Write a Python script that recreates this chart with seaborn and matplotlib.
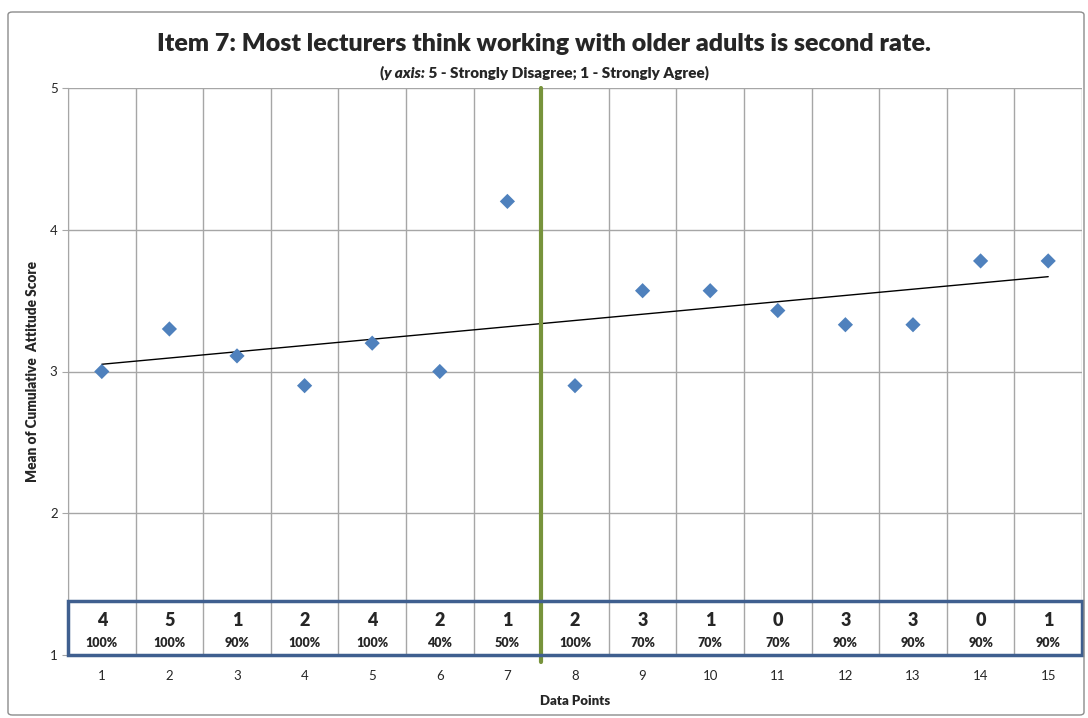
import matplotlib
matplotlib.use("Agg")
import matplotlib.pyplot as plt
from matplotlib.patches import Rectangle, FancyBboxPatch
import seaborn as sns
import pandas as pd

# data
points = list(range(1, 16))
mean_score = [3.0, 3.3, 3.11, 2.9, 3.2, 3.0, 4.2, 2.9, 3.57, 3.57, 3.43, 3.33, 3.33, 3.78, 3.78]
counts = ["4", "5", "1", "2", "4", "2", "1", "2", "3", "1", "0", "3", "3", "0", "1"]
percents = ["100%", "100%", "90%", "100%", "100%", "40%", "50%", "100%",
            "70%", "70%", "70%", "90%", "90%", "90%", "90%"]
y_ticks = [1, 2, 3, 4, 5]
divider_at = 7.5

df = pd.DataFrame({"point": points, "score": mean_score})

sns.set_style("white")
plt.rcParams["font.family"] = ["Lato", "DejaVu Sans"]

fig = plt.figure(figsize=(10.88, 7.18), dpi=100)
ax = fig.add_axes([68 / 1088, 1 - 655 / 718, (1082 - 68) / 1088, (655 - 88) / 718])

# outer chart border
fig.patches.append(FancyBboxPatch((8 / 1088, 3 / 718), 1076 / 1088, 703 / 718,
                                  boxstyle="round,pad=0,rounding_size=0.004",
                                  transform=fig.transFigure, fill=False,
                                  edgecolor="#8c8c8c", linewidth=1.0))

grid_c = "#a6a6a6"
for xb in [p + 0.5 for p in [0] + points]:
    ax.axvline(xb, color=grid_c, lw=1.0, zorder=0)
for yv in y_ticks[1:]:
    ax.axhline(yv, color=grid_c, lw=1.0, zorder=0)

sns.regplot(data=df, x="point", y="score", scatter=False, ci=None, ax=ax,
            line_kws=dict(color="black", lw=1.0, zorder=3))
sns.scatterplot(data=df, x="point", y="score", marker="D", s=60, color="#4f81bd",
                edgecolor="none", ax=ax, zorder=4)

ax.plot([divider_at, divider_at], [5, 0.95], color="#77933c", lw=3, clip_on=False, zorder=5)

# table strip at the bottom
ax.add_patch(Rectangle((0.5, 1.0), 15, 0.38, fill=False, edgecolor="#3f5f8f",
                       lw=2.5, zorder=6, clip_on=False))
for p, c, pc in zip(points, counts, percents):
    ax.text(p, 1.245, c, ha="center", va="center", fontsize=13, fontweight="heavy")
    ax.text(p, 1.085, pc, ha="center", va="center", fontsize=9, fontweight="heavy")

ax.set_xlim(0.5, 15.5)
ax.set_ylim(1, 5)
ax.set_yticks(y_ticks)
ax.set_xticks(points)
ax.set_xticks([p + 0.5 for p in [0] + points], minor=True)
ax.tick_params(axis="x", which="major", length=0, labelsize=9.5, pad=11)
ax.tick_params(axis="x", which="minor", length=4, color=grid_c, direction="out")
ax.tick_params(axis="y", length=4, color=grid_c, direction="out", labelsize=9.5, left=True)
for side in ["top", "right"]:
    ax.spines[side].set_visible(False)
for side in ["left", "bottom"]:
    ax.spines[side].set_color(grid_c)

ax.set_xlabel("Data Points", fontsize=9.5, fontweight="heavy", labelpad=9)
ax.set_ylabel("Mean of Cumulative  Attitude Score", fontsize=9.8, fontweight="heavy", labelpad=8)

fig.text(0.5, 1 - 44 / 718, "Item 7: Most lecturers think working with older adults is second rate.",
         ha="center", va="center", fontsize=18, fontweight="heavy")

# subtitle with italic part
fig.canvas.draw()
r = fig.canvas.get_renderer()
parts = [("(", "normal"), ("y axis:", "italic"), (" 5 - Strongly Disagree; 1 - Strongly Agree)", "normal")]
texts = []
for s, st in parts:
    texts.append(fig.text(0, 1 - 73 / 718, s, ha="left", va="center", fontsize=11,
                          fontweight="heavy", fontstyle=st))
widths = [t.get_window_extent(r).width for t in texts]
x0 = (1088 - sum(widths)) / 2
for t, w in zip(texts, widths):
    t.set_x(x0 / 1088)
    x0 += w

fig.savefig("out.png", dpi=100)
